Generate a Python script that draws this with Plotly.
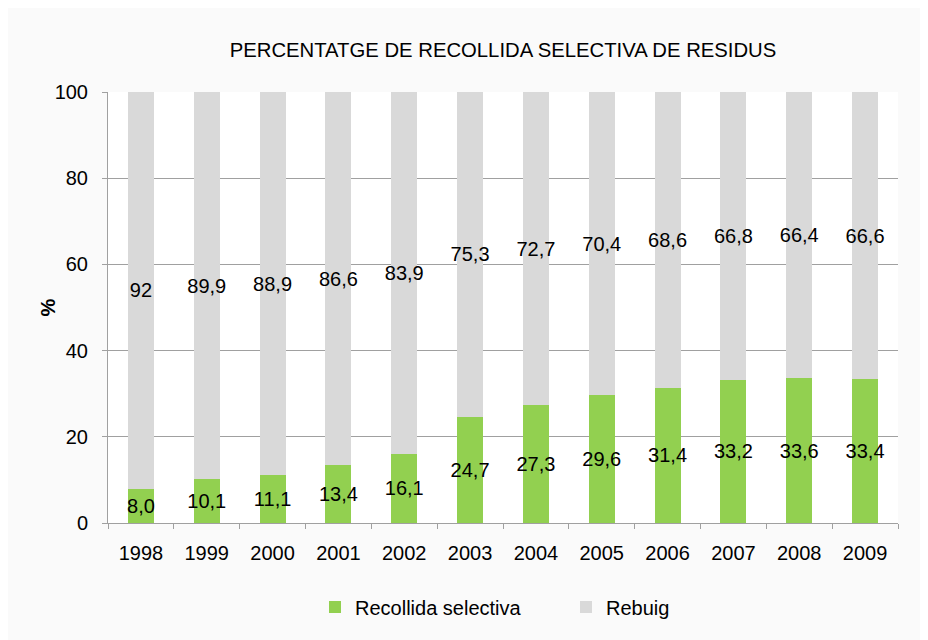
import plotly.graph_objects as go

years = ["1998", "1999", "2000", "2001", "2002", "2003", "2004", "2005", "2006", "2007", "2008", "2009"]
recollida = [8.0, 10.1, 11.1, 13.4, 16.1, 24.7, 27.3, 29.6, 31.4, 33.2, 33.6, 33.4]
rebuig = [92, 89.9, 88.9, 86.6, 83.9, 75.3, 72.7, 70.4, 68.6, 66.8, 66.4, 66.6]
recollida_labels = ["8,0", "10,1", "11,1", "13,4", "16,1", "24,7", "27,3", "29,6", "31,4", "33,2", "33,6", "33,4"]
rebuig_labels = ["92", "89,9", "88,9", "86,6", "83,9", "75,3", "72,7", "70,4", "68,6", "66,8", "66,4", "66,6"]

FONT = "Liberation Sans, Arial, sans-serif"
FS = 20
OFF = 8  # page body margin
W, H = 920, 632
ML, MR, MT, MB = 100, 30, 84, 117
pw = W - ML - MR
ph = H - MT - MB

fig = go.Figure()
fig.add_trace(go.Bar(
    x=years, y=recollida, name="Recollida selectiva",
    marker=dict(color="#92D050", line=dict(width=0)),
    text=recollida_labels, textposition="inside", insidetextanchor="middle",
    textangle=0, constraintext="none",
    textfont=dict(family=FONT, size=FS, color="black"),
    hoverinfo="skip",
))
fig.add_trace(go.Bar(
    x=years, y=rebuig, name="Rebuig",
    marker=dict(color="#D9D9D9", line=dict(width=0)),
    text=rebuig_labels, textposition="inside", insidetextanchor="middle",
    textangle=0, constraintext="none",
    textfont=dict(family=FONT, size=FS, color="black"),
    hoverinfo="skip",
))

fig.update_layout(
    width=W, height=H,
    barmode="stack", bargap=0.605,
    margin=dict(l=ML, r=MR, t=MT, b=MB, autoexpand=False),
    paper_bgcolor="#FAFAFA", plot_bgcolor="white",
    font=dict(family=FONT, size=FS, color="black"),
    title=dict(text="PERCENTATGE DE RECOLLIDA SELECTIVA DE RESIDUS",
               x=(ML + pw / 2) / W, xanchor="center", xref="container",
               y=1 - (50 - OFF) / H, yanchor="middle", yref="container",
               font=dict(family=FONT, size=20.3, color="black")),
    showlegend=True,
    legend=dict(orientation="h", x=(315 - OFF - ML) / pw, xanchor="left",
                y=(ph - (607 - OFF - MT)) / ph,
                yanchor="middle", xref="paper", yref="paper",
                font=dict(family=FONT, size=FS, color="black"),
                entrywidth=206, entrywidthmode="pixels",
                bgcolor="rgba(0,0,0,0)", traceorder="normal"),
    annotations=[dict(text="<b>%</b>", xref="paper", yref="paper",
                      x=(47 - OFF - ML) / pw, y=0.5, xanchor="center", yanchor="middle",
                      textangle=-90, showarrow=False,
                      font=dict(family=FONT, size=FS, color="black"))],
)
fig.update_xaxes(
    type="category", showline=True, linecolor="#A0A0A0", linewidth=1,
    ticks="outside", tickson="boundaries", ticklen=5, tickcolor="#A0A0A0",
    ticklabelstandoff=12, showgrid=False,
    tickfont=dict(family=FONT, size=FS, color="black"),
)
fig.update_yaxes(
    range=[0, 100], dtick=20, showline=True, linecolor="#A0A0A0", linewidth=1,
    ticks="outside", ticklen=5, tickcolor="#A0A0A0", ticklabelstandoff=10,
    showgrid=True, gridcolor="#A0A0A0", gridwidth=1, zeroline=False,
    tickfont=dict(family=FONT, size=FS, color="black"),
)

fig.write_html("out.html")
